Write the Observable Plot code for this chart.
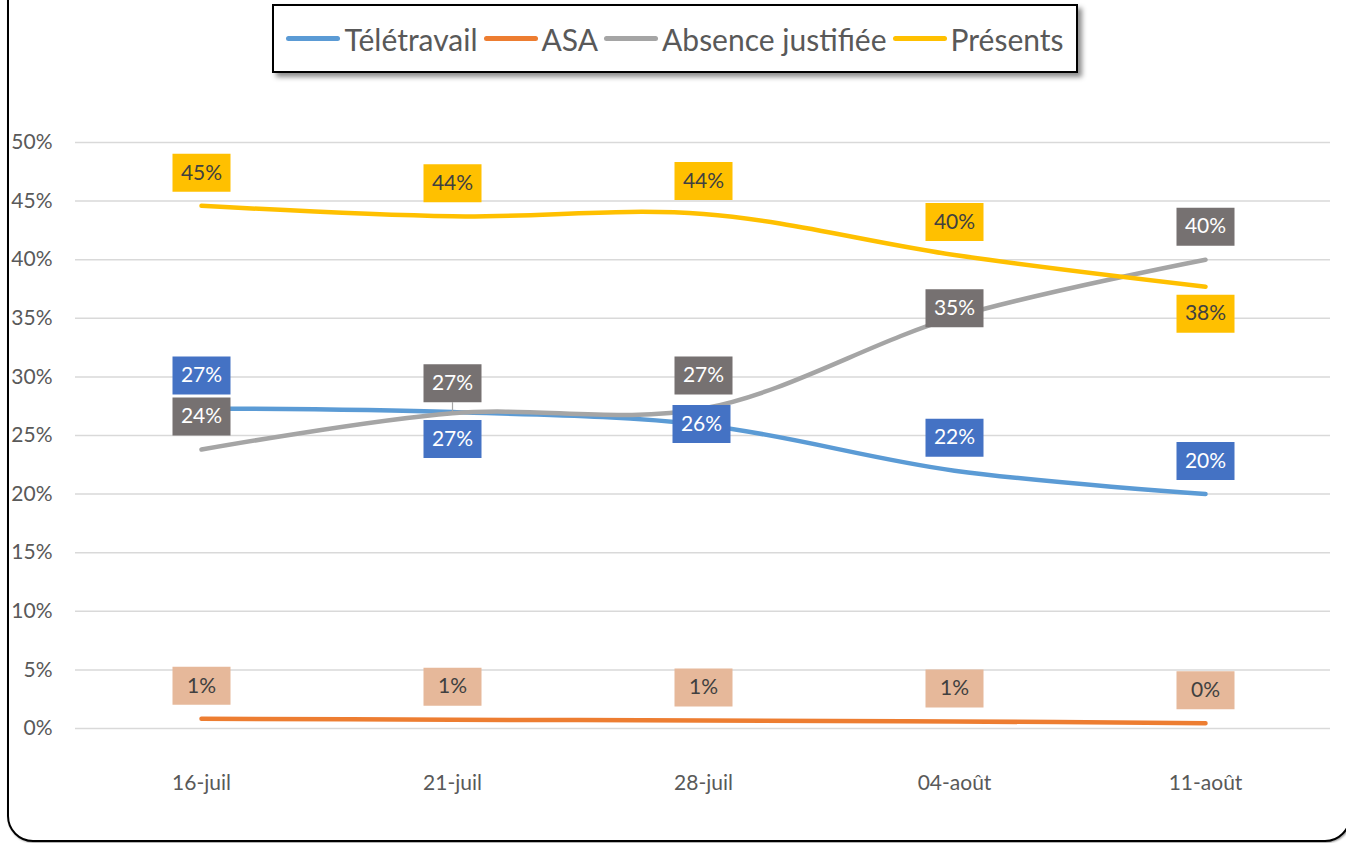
<!DOCTYPE html>
<html><head><meta charset="utf-8">
<script src="https://cdn.jsdelivr.net/npm/d3@7"></script>
<script src="https://cdn.jsdelivr.net/npm/@observablehq/plot@0.6"></script>
<style>
body{margin:0;background:#fff;font-family:Lato, "Open Sans", sans-serif;}
#root{position:relative;width:1346px;height:843px;overflow:hidden;background:#fff;}
#frame{position:absolute;left:7px;top:-40px;width:1344px;height:882px;border:2px solid #000;border-radius:26px;box-sizing:border-box;box-shadow:1px 1px 2px rgba(0,0,0,.4);}
#chart{position:absolute;left:0;top:0;}
#legend{position:absolute;left:272px;top:4px;width:806px;height:69px;box-sizing:border-box;border:2px solid #000;background:#fff;box-shadow:4px 4px 5px rgba(0,0,0,.45);display:flex;align-items:center;justify-content:center;font-size:30px;color:#595959;z-index:2;}
.item{display:flex;align-items:center;margin:0 3px;white-space:nowrap;}
.swatch{width:54px;height:5px;border-radius:3px;margin-right:4px;}
</style></head>
<body>
<div id="root">
  <div id="frame"></div>
  <div id="chart"></div>
  <div id="legend"></div>
</div>
<script>
// ---- data ----
const dates = ["16-juil", "21-juil", "28-juil", "04-août", "11-août"];
const seriesNames = ["Télétravail", "ASA", "Absence justifiée", "Présents"];
const teletravail = [27.3, 27.0, 25.9, 22.0, 20.0];
const asa = [0.83, 0.75, 0.68, 0.6, 0.45];
const absence = [23.8, 26.9, 27.3, 35.1, 40.0];
const presents = [44.6, 43.7, 43.9, 40.4, 37.7];
const yTicks = [0, 5, 10, 15, 20, 25, 30, 35, 40, 45, 50];

// label placement keywords (per point)
const teletravailLabelPos = ["above", "below", "center", "above", "above"];
const asaLabelPos = ["above", "above", "above", "above", "above"];
const absenceLabelPos = ["above", "leader", "above", "near", "above"];
const presentsLabelPos = ["above", "above", "above", "above", "below"];

// ---- styles ----
const lineColors = ["#5B9BD5", "#ED7D31", "#A5A5A5", "#FFC000"];
const labelFills = ["#4472C4", "#E6B89A", "#767171", "#FFC000"];
const labelTextColors = ["#ffffff", "#404040", "#ffffff", "#404040"];
const posOffset = {above: [0, -33], below: [0, 27], center: [-2, -1], near: [0, -9], leader: [0, -30]};

const values = [teletravail, asa, absence, presents];
const positions = [teletravailLabelPos, asaLabelPos, absenceLabelPos, presentsLabelPos];

const rows = [];
seriesNames.forEach((s, si) => {
  dates.forEach((d, i) => {
    rows.push({series: s, si, date: d, value: values[si][i], pos: positions[si][i], label: Math.round(values[si][i]) + "%"});
  });
});

const boxSymbol = {draw(ctx) { ctx.moveTo(-29, -19); ctx.lineTo(29, -19); ctx.lineTo(29, 19); ctx.lineTo(-29, 19); ctx.closePath(); }};
const leaderSymbol = {draw(ctx) { ctx.moveTo(0, 0); ctx.lineTo(0, -11); }};

const marks = [
  Plot.ruleY(yTicks, {stroke: "#d9d9d9", strokeWidth: 1.5}),
  Plot.axisY({ticks: yTicks, tickSize: 0, tickPadding: 23, tickFormat: d => d + "%", fontSize: 21, label: null}),
  Plot.axisX({tickSize: 0, tickPadding: 47, fontSize: 21, label: null})
];
seriesNames.forEach((s, si) => {
  marks.push(Plot.line(rows.filter(r => r.si === si), {x: "date", y: "value", stroke: lineColors[si], strokeWidth: 4.5, strokeLinecap: "round", strokeLinejoin: "round", curve: "catmull-rom"}));
});
marks.push(Plot.dot(rows.filter(r => r.pos === "leader"), {x: "date", y: "value", symbol: leaderSymbol, r: 5, stroke: "#A5A5A5", strokeWidth: 1.2, fill: "none"}));
seriesNames.forEach((s, si) => {
  Object.keys(posOffset).forEach(p => {
    const sub = rows.filter(r => r.si === si && r.pos === p);
    if (!sub.length) return;
    const [dx, dy] = posOffset[p];
    marks.push(Plot.dot(sub, {x: "date", y: "value", symbol: boxSymbol, r: 5, fill: labelFills[si], stroke: "none", dx, dy}));
    marks.push(Plot.text(sub, {x: "date", y: "value", text: "label", fill: labelTextColors[si], fontSize: 21, dx, dy}));
  });
});

const chart = Plot.plot({
  width: 1346, height: 843,
  marginTop: 142, marginBottom: 115, marginLeft: 75, marginRight: 16,
  x: {type: "point", domain: dates, padding: 0.5, label: null},
  y: {domain: [0, 50], label: null},
  style: {fontFamily: "Lato, 'Open Sans', sans-serif", fontSize: "21px", color: "#595959", background: "transparent"},
  marks
});
document.getElementById("chart").appendChild(chart);

const legend = document.getElementById("legend");
seriesNames.forEach((s, si) => {
  const it = document.createElement("div");
  it.className = "item";
  const sw = document.createElement("span");
  sw.className = "swatch";
  sw.style.background = lineColors[si];
  const tx = document.createElement("span");
  tx.textContent = s;
  it.appendChild(sw); it.appendChild(tx);
  legend.appendChild(it);
});
</script>
</body></html>
